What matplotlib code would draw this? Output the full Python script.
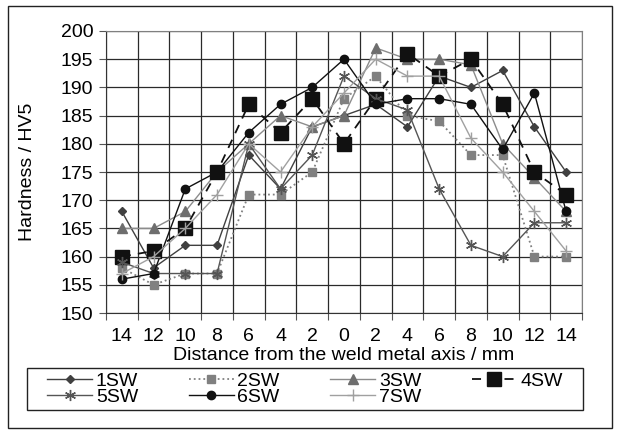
import numpy as np
import matplotlib
matplotlib.use('Agg')
import matplotlib.pyplot as plt
from matplotlib.patches import Rectangle

plt.rcParams['font.family'] = ['Liberation Sans', 'DejaVu Sans']

# distance labels (left side of weld, axis, right side)
dist = ['14', '12', '10', '8', '6', '4', '2', '0', '2', '4', '6', '8', '10', '12', '14']

sw1 = [168, 158, 162, 162, 178, 172, 183, 185, 187, 183, 192, 190, 193, 183, 175]
sw2 = [158, 155, 157, 157, 171, 171, 175, 188, 192, 185, 184, 178, 178, 160, 160]
sw3 = [165, 165, 168, 175, 180, 185, 183, 185, 197, 195, 195, 194, 180, 174, 168]
sw4 = [160, 161, 165, 175, 187, 182, 188, 180, 188, 196, 192, 195, 187, 175, 171]
sw5 = [159, 157, 157, 157, 180, 172, 178, 192, 188, 186, 172, 162, 160, 166, 166]
sw6 = [156, 157, 172, 175, 182, 187, 190, 195, 187, 188, 188, 187, 179, 189, 168]
sw7 = [157, 160, 165, 171, 180, 175, 183, 189, 195, 192, 192, 181, 175, 168, 161]

x = np.arange(len(dist))
fs = 14

fig = plt.figure(figsize=(6.19, 4.36), dpi=100)
ax = fig.add_axes([0.1712, 0.2821, 0.769, 0.6468])

# grid first, data on top
ax.set_axisbelow(True)
ax.set_xlim(-0.5, len(dist) - 0.5)
ax.set_ylim(150, 200)
ax.set_yticks(np.arange(150, 201, 5))
ax.set_xticks(np.arange(-0.5, len(dist), 1.0))
ax.set_xticklabels([])
ax.set_xticks(x, minor=True)
ax.set_xticklabels(dist, minor=True)
ax.grid(True, which='major', color='#2a2a2a', linewidth=0.9)
ax.tick_params(axis='x', which='minor', length=0, pad=11, labelsize=fs)
ax.tick_params(axis='x', which='major', length=5, color='#555555')
ax.tick_params(axis='y', length=5, pad=4, labelsize=fs, color='#555555')
for s in ['top', 'right']:
    ax.spines[s].set_color('#808080')
for s in ['left', 'bottom']:
    ax.spines[s].set_color('#333333')

l1, = ax.plot(x, sw1, color='#404040', lw=1.0, marker='D', ms=4.5, label='1SW')
l2, = ax.plot(x, sw2, color='#808080', lw=1.3, ls=':', marker='s', ms=5.5, label='2SW')
l3, = ax.plot(x, sw3, color='#8c8c8c', lw=1.0, marker='^', ms=6.5, mfc='#6e6e6e', mec='#6e6e6e', label='3SW')
l4, = ax.plot(x, sw4, color='#111111', lw=1.3, ls=(0, (5, 4)), marker='s', ms=10, label='4SW')
l5, = ax.plot(x, sw5, color='#555555', lw=1.0, marker=(6, 2, 0), ms=8, mew=1.0, label='5SW')
l6, = ax.plot(x, sw6, color='#111111', lw=1.0, marker='o', ms=6, label='6SW')
l7, = ax.plot(x, sw7, color='#a0a0a0', lw=1.0, marker='+', ms=9, mew=1.0, label='7SW')

ax.set_ylabel('Hardness / HV5', fontsize=fs, labelpad=18)
ax.set_xlabel('Distance from the weld metal axis / mm', fontsize=fs, labelpad=1)

handles = [l1, l5, l2, l6, l3, l7, l4]
leg = fig.legend(handles, [h.get_label() for h in handles], ncol=4,
                 loc='center', bbox_to_anchor=(305 / 619, 1 - 389 / 436),
                 fontsize=fs, frameon=False,
                 handlelength=2.3, handletextpad=0.2, labelspacing=-0.1,
                 borderpad=0, columnspacing=2.6)

# legend box and outer chart border
fig.patches.append(Rectangle((27 / 619, 1 - 410 / 436), 556 / 619, 42 / 436,
                             transform=fig.transFigure, fill=False,
                             edgecolor='#222222', linewidth=1.0))
fig.patches.append(Rectangle((8 / 619, 8 / 436), 604 / 619, 422 / 436,
                             transform=fig.transFigure, fill=False,
                             edgecolor='#222222', linewidth=1.0))

fig.savefig('out.png', dpi=100)
